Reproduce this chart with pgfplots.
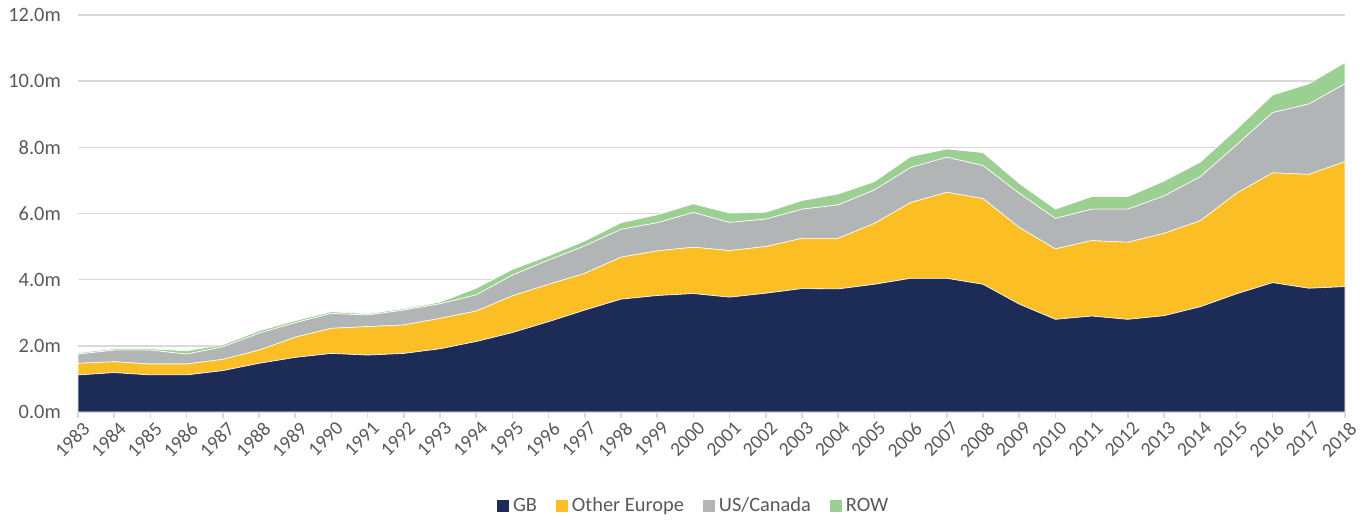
\documentclass[border=0pt]{standalone}
\usepackage{pgfplots}
\usepackage{pgfplotstable}
\usepackage{fontspec}
\setmainfont{Carlito}
\pgfplotsset{compat=1.18}
\definecolor{cGB}{HTML}{1D2C57}
\definecolor{cOE}{HTML}{FCBE25}
\definecolor{cUS}{HTML}{B2B5B6}
\definecolor{cROW}{HTML}{9CCF92}
\definecolor{cGrid}{HTML}{D9D9D9}
\definecolor{cText}{HTML}{595959}
\pgfplotstableread{
year GB OE US ROW
1983 1.12 0.35 0.28 0.04
1984 1.19 0.33 0.35 0.04
1985 1.12 0.33 0.42 0.04
1986 1.12 0.33 0.30 0.10
1987 1.25 0.34 0.38 0.06
1988 1.47 0.40 0.51 0.07
1989 1.65 0.61 0.44 0.06
1990 1.77 0.76 0.45 0.05
1991 1.72 0.86 0.35 0.04
1992 1.77 0.86 0.45 0.04
1993 1.91 0.92 0.44 0.05
1994 2.13 0.92 0.49 0.20
1995 2.40 1.11 0.63 0.17
1996 2.73 1.13 0.73 0.13
1997 3.08 1.11 0.83 0.15
1998 3.41 1.27 0.84 0.20
1999 3.52 1.35 0.85 0.24
2000 3.58 1.40 1.05 0.26
2001 3.47 1.41 0.85 0.28
2002 3.59 1.41 0.83 0.21
2003 3.73 1.52 0.88 0.26
2004 3.72 1.53 1.01 0.33
2005 3.86 1.84 1.01 0.25
2006 4.04 2.29 1.06 0.33
2007 4.04 2.60 1.06 0.25
2008 3.86 2.59 1.00 0.39
2009 3.26 2.32 1.03 0.30
2010 2.80 2.13 0.92 0.28
2011 2.90 2.28 0.95 0.38
2012 2.80 2.33 1.00 0.38
2013 2.91 2.49 1.13 0.45
2014 3.18 2.60 1.33 0.44
2015 3.57 3.04 1.46 0.47
2016 3.91 3.32 1.82 0.53
2017 3.74 3.44 2.13 0.61
2018 3.79 3.78 2.35 0.64
}\data
\begin{document}
\fontsize{10.2}{12}\selectfont
\begin{tikzpicture}
\begin{axis}[
  scale only axis,
  width=633.5pt, height=198.5pt,
  xmin=1983, xmax=2018,
  ymin=0, ymax=12,
  stack plots=y,
  axis x line*=bottom,
  axis y line*=left,
  y axis line style={draw=none},
  x axis line style={draw=cGrid, line width=0.8pt},
  ytick={0,2,4,6,8,10,12},
  yticklabels={0.0m,2.0m,4.0m,6.0m,8.0m,10.0m,12.0m},
  ytick style={draw=none},
  ymajorgrids,
  grid style={draw=cGrid, line width=0.75pt},
  xtick={1983,1984,...,2018},
  xticklabel={\pgfmathprintnumber[1000 sep={}]{\tick}},
  xtick style={draw=cGrid, line width=0.8pt},
  tick align=outside,
  major tick length=3pt,
  xticklabel style={rotate=45, anchor=east, font=\fontsize{9.8}{12}\selectfont, text=cText, inner sep=1pt, yshift=-5.5pt, xshift=1.5pt},
  yticklabel style={font=\fontsize{10.2}{12}\selectfont, text=cText, xshift=-2pt},
  /pgf/number format/assume math mode=true,
  legend style={at={(0.487,-0.237)}, anchor=center, draw=none, fill=none,
    legend columns=-1, font=\fontsize{10.2}{12}\selectfont, text=cText,
    nodes={inner xsep=2.2pt},
    /tikz/every even column/.append style={column sep=7.5pt}},
  legend image code/.code={\path[#1, draw=none] (0pt,-2.8pt) rectangle (5.6pt,2.8pt);},
  clip=false,
]
\addplot[fill=cGB, draw=white, line width=0.3pt] table[x=year, y=GB] {\data} \closedcycle;
\addlegendentry{GB}
\addplot[fill=cOE, draw=white, line width=0.3pt] table[x=year, y=OE] {\data} \closedcycle;
\addlegendentry{Other Europe}
\addplot[fill=cUS, draw=white, line width=0.3pt] table[x=year, y=US] {\data} \closedcycle;
\addlegendentry{US/Canada}
\addplot[fill=cROW, draw=white, line width=0.3pt] table[x=year, y=ROW] {\data} \closedcycle;
\addlegendentry{ROW}
\end{axis}
\pgfresetboundingbox
\path ([shift={(-39pt,-53.5pt)}]current axis.south west) rectangle ([shift={(9pt,7.5pt)}]current axis.north east);
\end{tikzpicture}
\end{document}
